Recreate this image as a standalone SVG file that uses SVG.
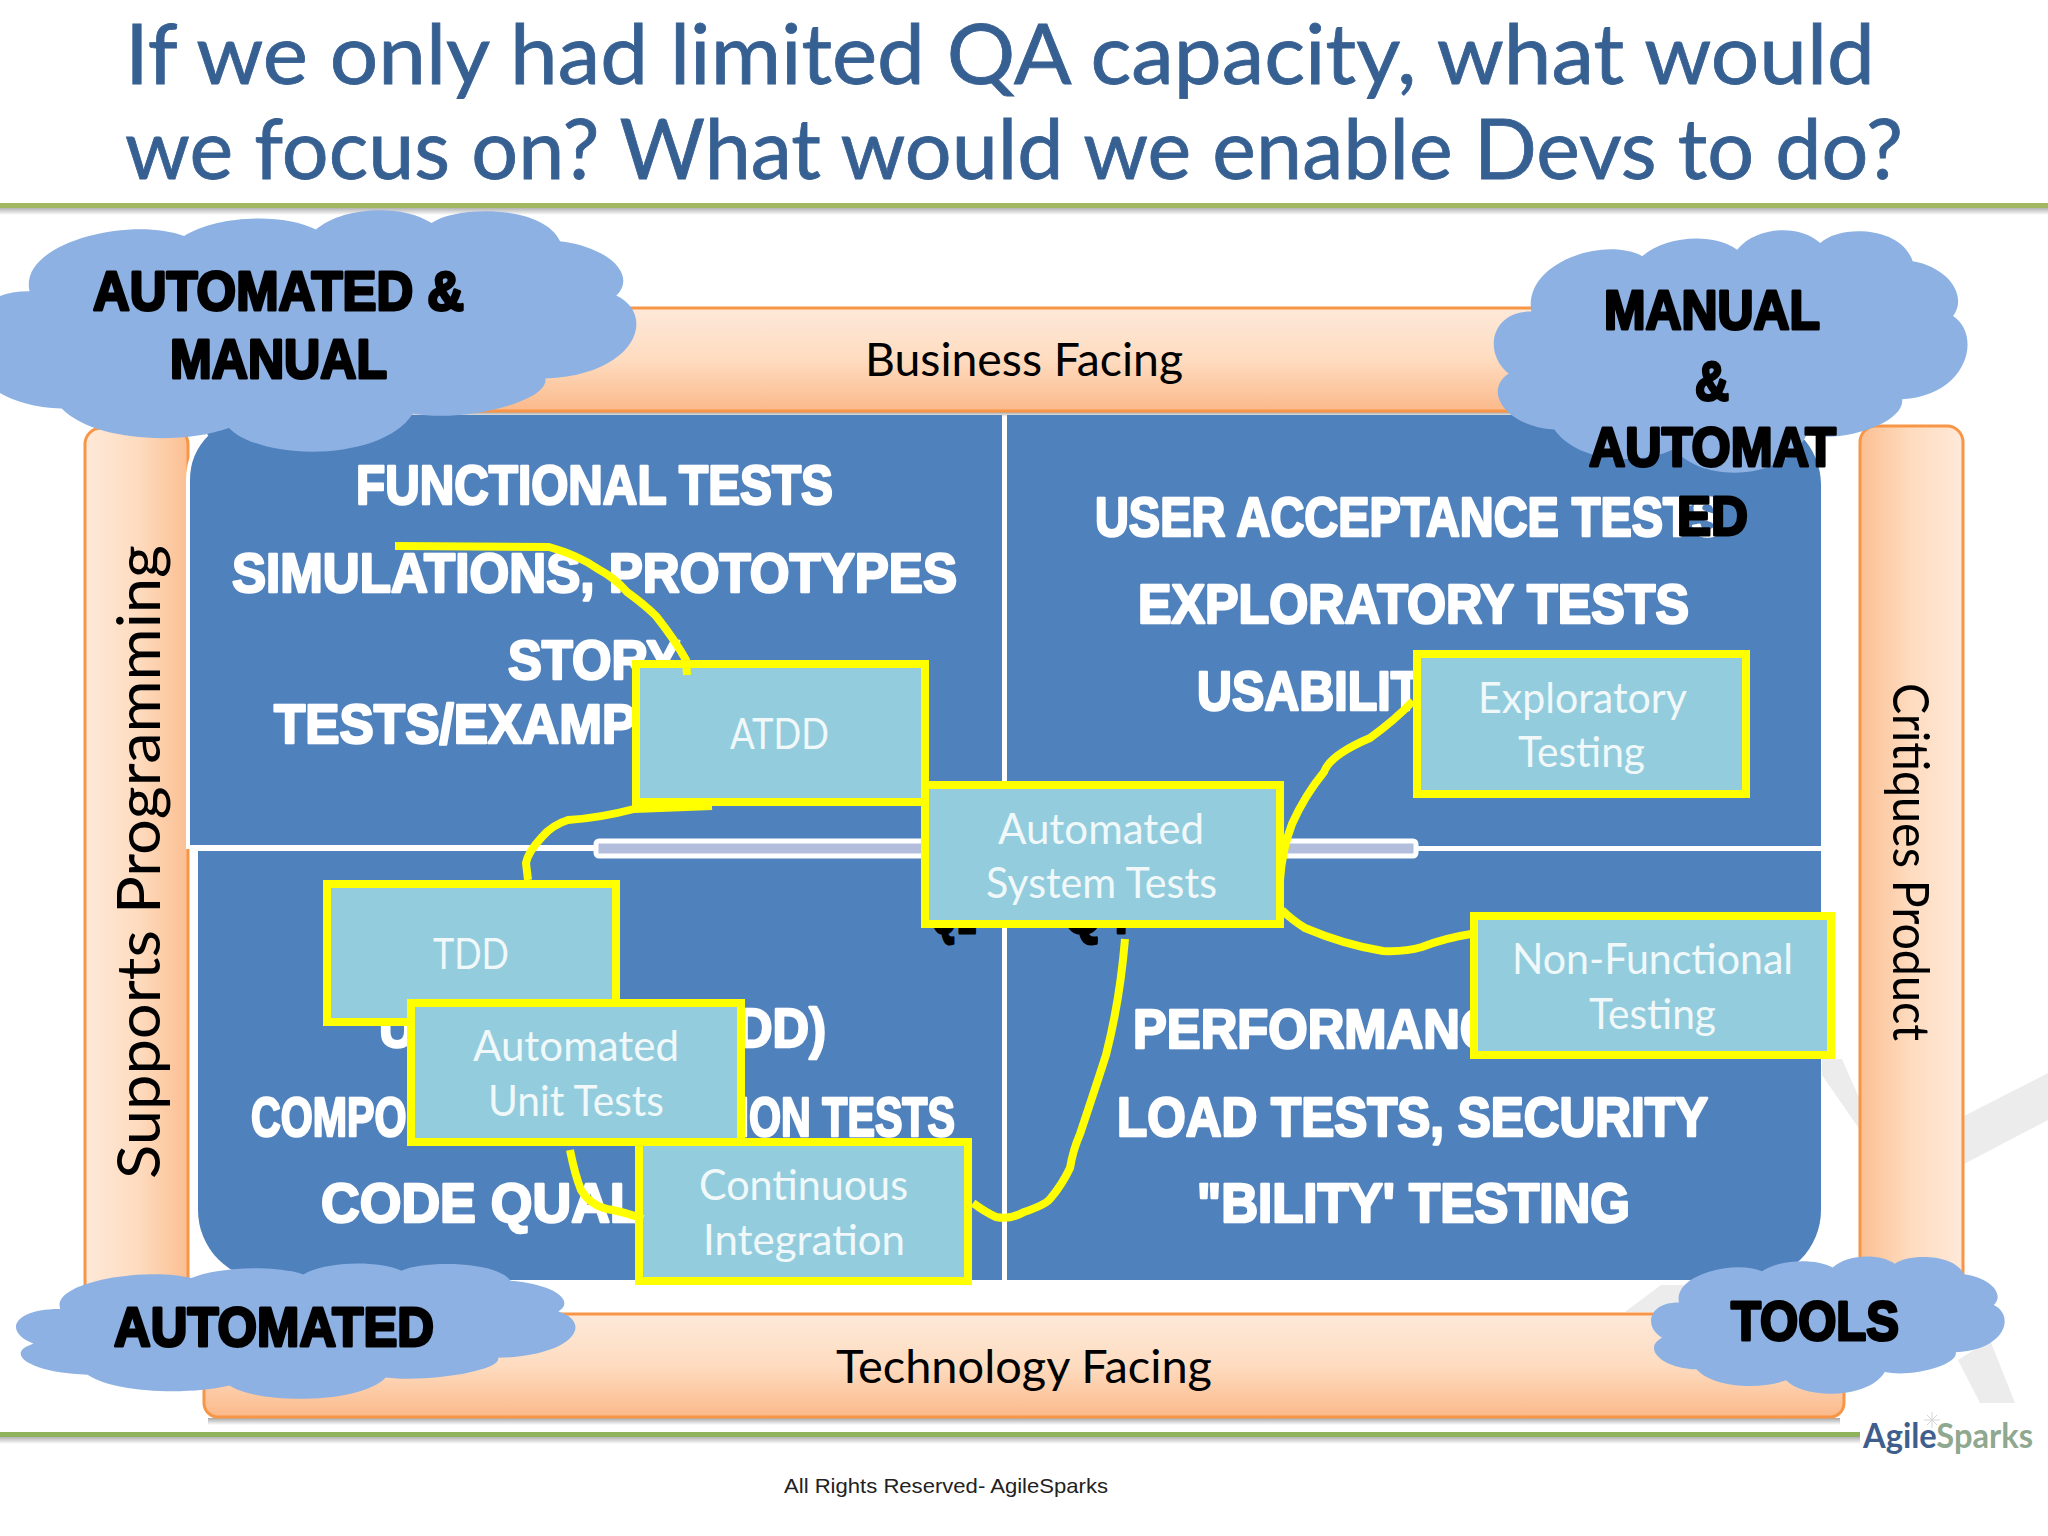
<svg xmlns="http://www.w3.org/2000/svg" width="2048" height="1536" viewBox="0 0 2048 1536">
<style>
.title{font-family:"Lato","Open Sans",sans-serif;font-size:83px;fill:#376092;stroke:#376092;stroke-width:0.8}
.bar{fill:url(#gv);stroke:#f79646;stroke-width:3}
.lab{font-family:"Lato","Liberation Sans",sans-serif;font-size:46px;fill:#000}
.quad{fill:#4f81bd}
.w{font-family:"Liberation Sans",sans-serif;font-weight:700;font-size:56px;fill:#fff;stroke:#fff;stroke-width:2.5;stroke-linejoin:round}
.k{font-family:"Liberation Sans",sans-serif;font-weight:700;font-size:56px;fill:#000;stroke:#000;stroke-width:3;stroke-linejoin:round}
.box{fill:#93cddd;stroke:#ffff00;stroke-width:8}
.bt{font-family:"Lato","Liberation Sans",sans-serif;font-size:42px;fill:#f0f8fa}
.c{fill:none;stroke:#ffff00;stroke-width:8;stroke-linejoin:round;stroke-linecap:butt}
.cloud{fill:#8db1e3}
.wm{fill:#ececec}
</style>
<defs>
<linearGradient id="gv" x1="0" y1="0" x2="0" y2="1"><stop offset="0" stop-color="#fde9d9"/><stop offset="0.5" stop-color="#fedcc0"/><stop offset="1" stop-color="#fbb98a"/></linearGradient>
<linearGradient id="gl" x1="0" y1="0" x2="1" y2="0"><stop offset="0" stop-color="#fee9d9"/><stop offset="0.5" stop-color="#fedcc0"/><stop offset="1" stop-color="#fbbf92"/></linearGradient>
<linearGradient id="gr" x1="0" y1="0" x2="1" y2="0"><stop offset="0" stop-color="#fbbf92"/><stop offset="0.5" stop-color="#fedcc0"/><stop offset="1" stop-color="#fee9d9"/></linearGradient>
<linearGradient id="sh" x1="0" y1="0" x2="0" y2="1"><stop offset="0" stop-color="#a8a8a8"/><stop offset="1" stop-color="#ffffff"/></linearGradient>
<path id="cl" d="M45,590C-10,500 10,330 92,333C75,130 245,20 323,104C370,20 470,5 520,77C560,-20 650,-30 693,50C730,-25 860,-25 885,125C960,150 1000,270 969,351C1030,430 1000,680 863,695C870,790 740,880 665,840C620,1040 440,1040 390,900C320,970 190,960 140,820C40,810 -10,660 45,590Z"/>
</defs>
<rect width="2048" height="1536" fill="#fff"/>
<g id="watermark">
<polygon class="wm" points="1964,1116 2048,1073 2048,1120 1964,1164"/>
<polygon class="wm" points="1822,1059 1842,1059 1860,1100 1860,1130 1822,1075"/>
<polygon class="wm" points="1625,1312 1661,1285 1700,1285 1680,1312"/>
<polygon class="wm" points="1958,1360 1990,1340 2015,1403 1980,1403"/>
</g>
<g id="title">
<text class="title" x="125" y="84" textLength="1750" lengthAdjust="spacingAndGlyphs">If we only had limited QA capacity, what would</text>
<text class="title" x="125" y="179" textLength="1778" lengthAdjust="spacingAndGlyphs">we focus on? What would we enable Devs to do?</text>
</g>
<g id="rules">
<rect x="0" y="207" width="2048" height="8" fill="url(#sh)"/>
<rect x="0" y="203" width="2048" height="5" fill="#a2b75f"/>
<rect x="0" y="1436" width="1860" height="8" fill="url(#sh)"/>
<rect x="0" y="1432" width="1860" height="5" fill="#8fb35c"/>
</g>
<g id="bar-supports">
<rect x="85" y="428" width="103" height="890" rx="16" style="fill:url(#gl);stroke:#f79646;stroke-width:3"/>
<text class="lab" transform="translate(160,1179) rotate(-90)" style="font-size:60px" textLength="634" lengthAdjust="spacingAndGlyphs">Supports Programming</text>
</g>
<g id="bar-critiques">
<rect x="1860" y="426" width="103" height="900" rx="16" style="fill:url(#gr);stroke:#f79646;stroke-width:3"/>
<text class="lab" transform="translate(1893,683) rotate(90)" style="font-size:50px" textLength="358" lengthAdjust="spacingAndGlyphs">Critiques Product</text>
</g>
<g id="bar-business">
<rect x="208" y="412" width="1632" height="5" fill="url(#sh)"/>
<rect x="204" y="308" width="1640" height="103" rx="14" class="bar"/>
<text class="lab" x="865" y="376" textLength="318" lengthAdjust="spacingAndGlyphs">Business Facing</text>
</g>
<g id="bar-technology">
<rect x="208" y="1418" width="1632" height="7" fill="url(#sh)"/>
<rect x="204" y="1314" width="1640" height="103" rx="14" class="bar"/>
<text class="lab" x="836" y="1383" textLength="376" lengthAdjust="spacingAndGlyphs">Technology Facing</text>
</g>
<g id="quadrants">
<path class="quad" d="M188,846V480A65,65 0 0 1 253,415H1002V846Z"/>
<path d="M188,846V480A65,65 0 0 1 207,434M186,847H1002" fill="none" stroke="#fff" stroke-width="4"/>
<path class="quad" d="M1007,415H1751A70,70 0 0 1 1821,485V846H1007Z"/>
<path class="quad" d="M198,851H1002V1280H268A70,70 0 0 1 198,1210Z"/>
<path class="quad" d="M1007,851H1821V1210A70,70 0 0 1 1751,1280H1007Z"/>
<rect x="596" y="841" width="820" height="15" rx="3" fill="#b3bedc" stroke="#fff" stroke-width="5"/>
</g>
<g id="quadrant-text">
<text class="w" x="356" y="504" textLength="477" lengthAdjust="spacingAndGlyphs">FUNCTIONAL TESTS</text>
<text class="w" x="232" y="592" textLength="725" lengthAdjust="spacingAndGlyphs">SIMULATIONS, PROTOTYPES</text>
<text class="w" x="508" y="679" textLength="172" lengthAdjust="spacingAndGlyphs">STORY</text>
<text class="w" x="274" y="743" textLength="462" lengthAdjust="spacingAndGlyphs">TESTS/EXAMPLES</text>
<text class="w" x="1095" y="536" textLength="628" lengthAdjust="spacingAndGlyphs">USER ACCEPTANCE TESTS</text>
<text class="w" x="1138" y="623" textLength="551" lengthAdjust="spacingAndGlyphs">EXPLORATORY TESTS</text>
<text class="w" x="1197" y="710" textLength="478" lengthAdjust="spacingAndGlyphs">USABILITY TESTING</text>
<text class="w" x="379" y="1047" textLength="447" lengthAdjust="spacingAndGlyphs">UNIT TESTS (TDD)</text>
<text class="w" x="251" y="1136" textLength="704" lengthAdjust="spacingAndGlyphs">COMPONENT/INTEGRATION TESTS</text>
<text class="w" x="321" y="1222" textLength="405" lengthAdjust="spacingAndGlyphs">CODE QUALITY</text>
<text class="w" x="1133" y="1048" textLength="448" lengthAdjust="spacingAndGlyphs">PERFORMANCE &amp;</text>
<text class="w" x="1117" y="1136" textLength="591" lengthAdjust="spacingAndGlyphs">LOAD TESTS, SECURITY</text>
<text class="w" x="1197" y="1222" textLength="433" lengthAdjust="spacingAndGlyphs">"BILITY' TESTING</text>
<text class="k" x="931" y="933" textLength="45" lengthAdjust="spacingAndGlyphs">Q1</text>
<text class="k" x="1064" y="933" textLength="65" lengthAdjust="spacingAndGlyphs">Q4</text>
</g>
<g id="node-atdd">
<rect class="box" x="636" y="664" width="289" height="138"/>
<text class="bt" x="730" y="749" textLength="99" lengthAdjust="spacingAndGlyphs">ATDD</text>
</g>
<g id="node-exploratory">
<rect class="box" x="1417" y="654" width="329" height="140"/>
<text class="bt" x="1478" y="713" textLength="209" lengthAdjust="spacingAndGlyphs">Exploratory</text>
<text class="bt" x="1518" y="767" textLength="127" lengthAdjust="spacingAndGlyphs">Testing</text>
</g>
<g id="node-tdd">
<rect class="box" x="327" y="884" width="289" height="138"/>
<text class="bt" x="433" y="969" textLength="76" lengthAdjust="spacingAndGlyphs">TDD</text>
</g>
<g id="node-unit">
<rect class="box" x="411" y="1003" width="330" height="139"/>
<text class="bt" x="473" y="1061" textLength="206" lengthAdjust="spacingAndGlyphs">Automated</text>
<text class="bt" x="488" y="1116" textLength="176" lengthAdjust="spacingAndGlyphs">Unit Tests</text>
</g>
<g id="node-ci">
<rect class="box" x="639" y="1142" width="329" height="139"/>
<text class="bt" x="699" y="1200" textLength="209" lengthAdjust="spacingAndGlyphs">Continuous</text>
<text class="bt" x="703" y="1255" textLength="202" lengthAdjust="spacingAndGlyphs">Integration</text>
</g>
<g id="node-system">
<rect class="box" x="925" y="785" width="355" height="139"/>
<text class="bt" x="998" y="844" textLength="206" lengthAdjust="spacingAndGlyphs">Automated</text>
<text class="bt" x="986" y="898" textLength="231" lengthAdjust="spacingAndGlyphs">System Tests</text>
</g>
<g id="node-nonfunctional">
<rect class="box" x="1474" y="916" width="357" height="139"/>
<text class="bt" x="1512" y="974" textLength="281" lengthAdjust="spacingAndGlyphs">Non-Functional</text>
<text class="bt" x="1589" y="1029" textLength="127" lengthAdjust="spacingAndGlyphs">Testing</text>
</g>
<g id="connectors">
<path class="c" d="M395,546L549,547Q578,555 598,569Q615,578 627,592Q645,605 656,616Q675,640 686,660L687,675"/>
<path class="c" d="M712,806L634,809Q600,818 568,820Q552,825 542,837Q528,852 526,863L528,880"/>
<path class="c" d="M1280,880Q1282,850 1292,824Q1305,795 1324,772Q1330,755 1370,738Q1395,720 1413,701"/>
<path class="c" d="M1282,910Q1292,920 1305,928Q1345,945 1383,951Q1405,952 1422,947Q1445,938 1471,934"/>
<path class="c" d="M570,1150Q575,1175 581,1190Q590,1205 607,1209Q625,1212 643,1219"/>
<path class="c" d="M973,1203Q985,1212 996,1217Q1010,1220 1024,1212Q1045,1205 1050,1199Q1062,1185 1070,1168Q1073,1150 1080,1134Q1098,1080 1106,1055Q1120,1000 1125,939"/>
</g>
<g id="cloud-top-left">
<use href="#cl" class="cloud" transform="translate(-32,211) scale(0.669,0.241)"/>
<text class="k" x="93" y="310" textLength="371" lengthAdjust="spacingAndGlyphs">AUTOMATED &amp;</text>
<text class="k" x="170" y="378" textLength="217" lengthAdjust="spacingAndGlyphs">MANUAL</text>
</g>
<g id="cloud-top-right">
<use href="#cl" class="cloud" transform="translate(1487,231) scale(0.481,0.242)"/>
<text class="k" x="1604" y="329" textLength="216" lengthAdjust="spacingAndGlyphs">MANUAL</text>
<text class="k" x="1695" y="400" textLength="34" lengthAdjust="spacingAndGlyphs">&amp;</text>
<text class="k" x="1589" y="466" textLength="247" lengthAdjust="spacingAndGlyphs">AUTOMAT</text>
<text class="k" x="1677" y="535" textLength="71" lengthAdjust="spacingAndGlyphs">ED</text>
</g>
<g id="cloud-bottom-left">
<use href="#cl" class="cloud" transform="translate(8,1264) scale(0.568,0.135)"/>
<text class="k" x="114" y="1346" textLength="320" lengthAdjust="spacingAndGlyphs">AUTOMATED</text>
</g>
<g id="cloud-bottom-right">
<use href="#cl" class="cloud" transform="translate(1646,1257) scale(0.359,0.137)"/>
<text class="k" x="1731" y="1340" textLength="168" lengthAdjust="spacingAndGlyphs">TOOLS</text>
</g>
<g id="logo">
<path d="M1932,1412V1428M1924,1420H1940M1927,1415L1937,1425M1937,1415L1927,1425" stroke="#d5d5d5" stroke-width="1" fill="none"/>
<text x="1863" y="1448" font-family="Lato,'Liberation Sans',sans-serif" font-size="34" font-weight="700" textLength="170" lengthAdjust="spacingAndGlyphs"><tspan fill="#3f5e8c">Agile</tspan><tspan fill="#8fa88f">Sparks</tspan></text>
</g>
<g id="footer">
<text x="784" y="1493" font-family="'Liberation Sans',sans-serif" font-size="21" fill="#222" textLength="324" lengthAdjust="spacingAndGlyphs">All Rights Reserved- AgileSparks</text>
</g>
</svg>
